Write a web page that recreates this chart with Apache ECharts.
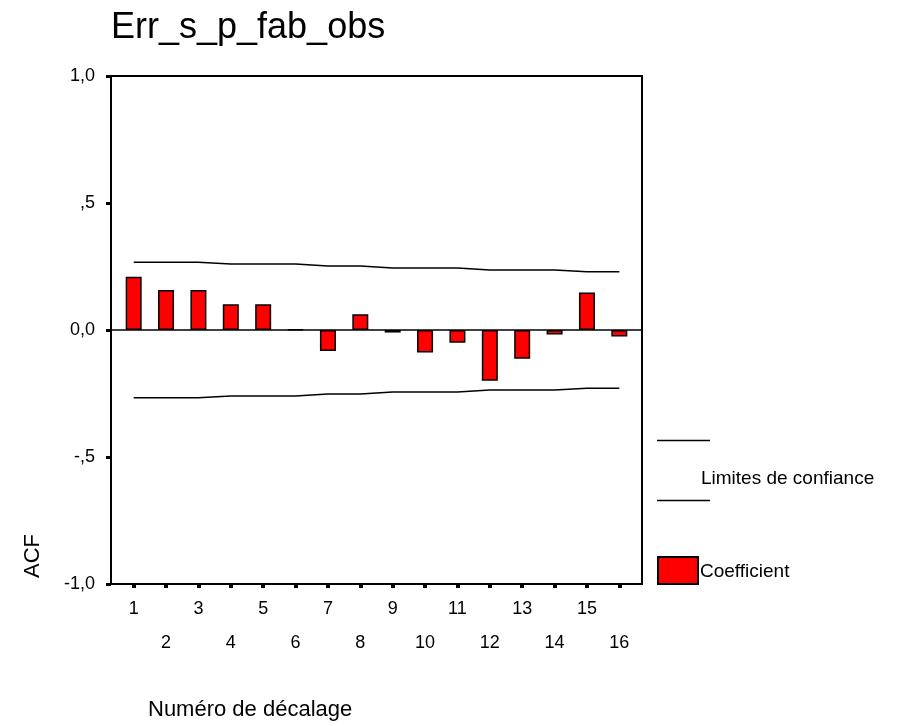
<!DOCTYPE html>
<html>
<head>
<meta charset="utf-8">
<script src="https://cdn.jsdelivr.net/npm/echarts@6/dist/echarts.min.js"></script>
<style>
html,body{margin:0;padding:0;background:#fff;}
#chart{width:900px;height:726px;}
</style>
</head>
<body>
<div id="chart"></div>
<script>
var lags = [1,2,3,4,5,6,7,8,9,10,11,12,13,14,15,16];
var acf = [0.21,0.157,0.157,0.101,0.101,0.002,-0.083,0.062,-0.01,-0.089,-0.05,-0.2,-0.113,-0.018,0.148,-0.026];
var upperLimit = [0.267,0.267,0.267,0.26,0.26,0.26,0.252,0.252,0.244,0.244,0.244,0.236,0.236,0.236,0.229,0.229];
var lowerLimit = [-0.267,-0.267,-0.267,-0.26,-0.26,-0.26,-0.252,-0.252,-0.244,-0.244,-0.244,-0.236,-0.236,-0.236,-0.229,-0.229];
var yTickValues = [-1,-0.5,0,0.5,1];
var yTickLabels = ['-1,0','-,5','0,0',',5','1,0'];
var titleText = 'Err_s_p_fab_obs';
var xName = 'Numéro de décalage';
var yName = 'ACF';
var legendLimits = 'Limites de confiance';
var legendCoef = 'Coefficient';

var FONT = 'Arial, "Liberation Sans", sans-serif';
var chart = echarts.init(document.getElementById('chart'), null, {renderer:'canvas'});

function pairs(xs, ys){ return xs.map(function(x,i){ return [x, ys[i]]; }); }

var option = {
  animation:false,
  backgroundColor:'#ffffff',
  title:{
    text:titleText, left:111, top:10, padding:0,
    textStyle:{fontFamily:FONT, fontSize:36, fontWeight:'normal', color:'#000'}
  },
  grid:{
    left:111, top:76, width:531, height:508,
    show:true, borderColor:'#000', borderWidth:2, backgroundColor:'transparent'
  },
  xAxis:{
    type:'value', min:0.3, max:16.7,
    splitLine:{show:false},
    axisLine:{show:true, onZero:false, lineStyle:{color:'#000', width:2}},
    axisTick:{show:true, customValues:lags, length:4, lineStyle:{color:'#000', width:4}},
    axisLabel:{
      customValues:lags, margin:8, fontFamily:FONT, fontSize:18, color:'#000', lineHeight:34,
      formatter:function(v){ return (Math.round(v) % 2 === 0) ? '\n' + v : '' + v; }
    }
  },
  yAxis:{
    type:'value', min:-1, max:1, interval:0.5,
    splitLine:{show:false},
    axisLine:{show:true, onZero:false, lineStyle:{color:'#000', width:2}},
    axisTick:{show:true, length:5, lineStyle:{color:'#000', width:3}},
    axisLabel:{
      margin:16, fontFamily:FONT, fontSize:18, color:'#000',
      formatter:function(v){
        for (var i=0;i<yTickValues.length;i++){ if (Math.abs(yTickValues[i]-v)<1e-9) return yTickLabels[i]; }
        return '';
      }
    }
  },
  series:[
    {
      type:'line', name:'upper', data:pairs(lags, upperLimit), showSymbol:false, symbol:'none',
      lineStyle:{color:'#000', width:1.5}, z:3
    },
    {
      type:'line', name:'lower', data:pairs(lags, lowerLimit), showSymbol:false, symbol:'none',
      lineStyle:{color:'#000', width:1.5}, z:3
    },
    {
      type:'bar', name:legendCoef, data:pairs(lags, acf), barWidth:16,
      itemStyle:{color:'#ff0000', borderColor:'#000', borderWidth:1.5},
      z:4,
      markLine:{
        silent:true, symbol:'none', label:{show:false},
        lineStyle:{color:'#000', width:1.5, type:'solid'},
        data:[{yAxis:0}], z:2
      }
    }
  ],
  graphic:[
    {type:'text', x:33, y:556, rotation:Math.PI/2,
     style:{text:yName, fontFamily:FONT, fontSize:22, fill:'#000', align:'center', verticalAlign:'middle'}},
    {type:'text', x:148, y:710,
     style:{text:xName, fontFamily:FONT, fontSize:22, fill:'#000', align:'left', verticalAlign:'middle'}},
    {type:'line', shape:{x1:657, y1:440.5, x2:710, y2:440.5}, style:{stroke:'#000', lineWidth:1.5}},
    {type:'line', shape:{x1:657, y1:500.5, x2:710, y2:500.5}, style:{stroke:'#000', lineWidth:1.5}},
    {type:'text', x:701, y:479,
     style:{text:legendLimits, fontFamily:FONT, fontSize:19, fill:'#000', align:'left', verticalAlign:'middle'}},
    {type:'rect', shape:{x:658, y:557, width:40, height:27}, style:{fill:'#ff0000', stroke:'#000', lineWidth:2}},
    {type:'text', x:700, y:572,
     style:{text:legendCoef, fontFamily:FONT, fontSize:19, fill:'#000', align:'left', verticalAlign:'middle'}}
  ]
};
chart.setOption(option);
</script>
</body>
</html>
